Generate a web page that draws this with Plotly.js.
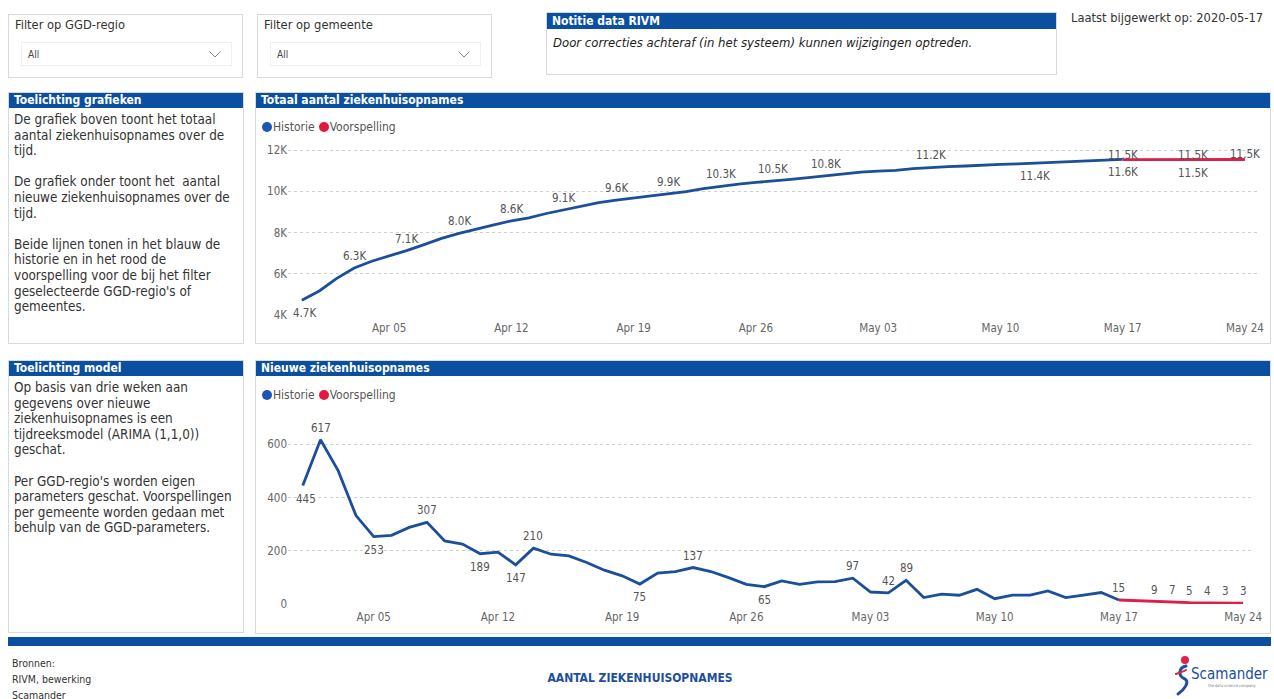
<!DOCTYPE html>
<html><head><meta charset="utf-8">
<script src="https://cdn.plot.ly/plotly-3.0.1.min.js"></script>
<style>
body{margin:0;width:1274px;height:699px;overflow:hidden;background:#fff;font-family:"DejaVu Sans Condensed","DejaVu Sans",sans-serif;color:#333;position:relative}
.box{position:absolute;border:1px solid #d9d9d9;box-sizing:border-box;background:#fff}
.hdr{position:absolute;left:0;right:0;top:0;height:15px;background:#0a4fa0;color:#fff;font-weight:bold;font-size:12px;line-height:15px;padding-left:5px;white-space:nowrap}
.ftitle{position:absolute;left:6px;top:2px;font-size:12.8px;color:#333}
.dd{position:absolute;left:12px;top:27px;width:211px;height:24px;border:1px solid #efefef;font-size:10px;line-height:24px;padding-left:6px;box-sizing:border-box;color:#444}
.dd svg{position:absolute;right:10px;top:8px}
.txt{position:absolute;left:5px;top:19px;width:224px;font-size:13.4px;line-height:15.6px;color:#333}
.leg{position:absolute;font-size:12px;color:#555;white-space:nowrap}
.leg span.dot{display:inline-block;width:10px;height:10px;border-radius:50%;vertical-align:-1px;margin-right:1px}
.leg span.item{margin-right:4px}
.chart{position:absolute}
</style></head>
<body>
<div class="box" style="left:8px;top:14px;width:235px;height:64px">
  <div class="ftitle">Filter op GGD-regio</div>
  <div class="dd">All<svg width="12" height="7"><path d="M0.5 0.5 L6 6 L11.5 0.5" fill="none" stroke="#888" stroke-width="1"/></svg></div>
</div>
<div class="box" style="left:257px;top:14px;width:235px;height:64px">
  <div class="ftitle">Filter op gemeente</div>
  <div class="dd">All<svg width="12" height="7"><path d="M0.5 0.5 L6 6 L11.5 0.5" fill="none" stroke="#888" stroke-width="1"/></svg></div>
</div>
<div class="box" style="left:546px;top:12px;width:511px;height:63px">
  <div class="hdr" style="height:16px;line-height:16px;font-weight:bold">Notitie data RIVM</div>
  <div style="position:absolute;left:6px;top:22px;font-size:13px;font-style:italic;color:#222">Door correcties achteraf (in het systeem) kunnen wijzigingen optreden.</div>
</div>
<div style="position:absolute;left:1071px;top:10px;font-size:12.8px;color:#333">Laatst bijgewerkt op: 2020-05-17</div>

<div class="box" style="left:8px;top:92px;width:236px;height:252px">
  <div class="hdr">Toelichting grafieken</div>
  <div class="txt">De grafiek boven toont het totaal aantal ziekenhuisopnames over de tijd.<br><br>De grafiek onder toont het&nbsp; aantal nieuwe ziekenhuisopnames over de tijd.<br><br>Beide lijnen tonen in het blauw de historie en in het rood de voorspelling voor de bij het filter geselecteerde GGD-regio's of gemeentes.</div>
</div>
<div class="box" style="left:8px;top:360px;width:236px;height:273px">
  <div class="hdr">Toelichting model</div>
  <div class="txt">Op basis van drie weken aan gegevens over nieuwe ziekenhuisopnames is een tijdreeksmodel (ARIMA (1,1,0)) geschat.<br><br>Per GGD-regio's worden eigen parameters geschat. Voorspellingen per gemeente worden gedaan met behulp van de GGD-parameters.</div>
</div>

<div class="box" style="left:255px;top:92px;width:1016px;height:252px">
  <div class="hdr">Totaal aantal ziekenhuisopnames</div>
</div>
<div class="box" style="left:255px;top:360px;width:1016px;height:274px">
  <div class="hdr">Nieuwe ziekenhuisopnames</div>
</div>
<div id="c1" class="chart" style="left:256px;top:107px;width:1014px;height:236px"></div>
<div id="c2" class="chart" style="left:256px;top:376px;width:1014px;height:257px"></div>
<div id="leg1" class="leg" style="left:262px;top:120px"></div>
<div id="leg2" class="leg" style="left:262px;top:388px"></div>

<div style="position:absolute;left:8px;top:637px;width:1263px;height:9px;background:#0a4fa0"></div>
<div style="position:absolute;left:12px;top:655px;font-size:10.5px;line-height:16px;color:#333">Bronnen:<br>RIVM, bewerking<br>Scamander</div>
<div style="position:absolute;left:0;width:1280px;text-align:center;top:671px;font-size:12px;font-weight:bold;color:#1d4f9c">AANTAL ZIEKENHUISOPNAMES</div>
<svg style="position:absolute;left:1170px;top:652px" width="100" height="46">
  <circle cx="15" cy="8" r="4" fill="#e0224c"/>
  <path d="M16 14 C 8 16, 8 24, 15 27 C 20 30, 14 38, 8 42" fill="none" stroke="#1d4f9c" stroke-width="3" stroke-linecap="round"/>
  <path d="M6 22 C 10 20, 13 20, 16 18" fill="none" stroke="#e0224c" stroke-width="2" stroke-linecap="round"/>
  <text x="21" y="27" font-family="DejaVu Sans Condensed" font-size="15" fill="#1d4f9c">Scamander</text>
  <text x="38" y="35" font-family="DejaVu Sans Condensed" font-size="4" fill="#777">the data science company</text>
</svg>

<script>
// ---------- data ----------
const seriesNames = ['Historie', 'Voorspelling'];
const seriesColors = ['#1c4f99', '#dc1f4b'];
const legendColors = ['#1f55b3', '#e5173f'];

const totalHistStart = '2020-03-31';
const totalHist = [4720, 5165, 5780, 6280, 6610, 6865, 7125, 7415, 7720, 7960,
  8185, 8375, 8570, 8715, 8925, 9110, 9290, 9450, 9575, 9680,
  9755, 9870, 9990, 10130, 10255, 10355, 10430, 10495, 10585, 10665,
  10755, 10840, 10935, 10980, 11020, 11105, 11160, 11195, 11230, 11285,
  11305, 11335, 11370, 11415, 11440, 11475, 11520, 11555];
const totalFcStart = '2020-05-17';
const totalFc = [11540, 11540, 11541, 11542, 11543, 11544, 11545, 11546];
const totalHistLabelDates = ['2020-03-31','2020-04-03','2020-04-06','2020-04-09','2020-04-12','2020-04-15','2020-04-18','2020-04-21','2020-04-24','2020-04-27','2020-04-30','2020-05-06','2020-05-12','2020-05-17'];
const totalHistLabelSide = ['below','above','above','above','above','above','above','above','above','above','above','above','below','below'];
const totalFcLabelDates = ['2020-05-17','2020-05-21','2020-05-24','2020-05-21'];
const totalFcLabelSide = ['near','near','near','below'];
const totalTickVals = [4000, 6000, 8000, 10000, 12000];
const totalTickText = ['4K', '6K', '8K', '10K', '12K'];

const newHistStart = '2020-04-01';
const newHist = [445, 617, 500, 332, 253, 258, 288, 307, 237, 225,
  189, 195, 147, 210, 187, 181, 156, 127, 106, 75,
  116, 122, 137, 122, 99, 74, 65, 87, 74, 83,
  84, 97, 45, 42, 89, 24, 37, 33, 55, 20,
  33, 33, 49, 24, 33, 43, 15];
const newFcStart = '2020-05-17';
const newFc = [15, 12, 9, 7, 5, 4, 3, 3];
const newHistLabelDates = ['2020-04-01','2020-04-02','2020-04-05','2020-04-08','2020-04-11','2020-04-13','2020-04-14','2020-04-20','2020-04-23','2020-04-27','2020-05-02','2020-05-04','2020-05-05','2020-05-17'];
const newHistLabelSide = ['below','above','below','above','below','below','above','below','above','below','above','above','above','above'];
const newFcLabelDates = ['2020-05-19','2020-05-20','2020-05-21','2020-05-22','2020-05-23','2020-05-24'];
const newFcLabelSide = ['above','above','above','above','above','above'];
const newTickVals = [0, 200, 400, 600];

const weekTicks = ['2020-04-05','2020-04-12','2020-04-19','2020-04-26','2020-05-03','2020-05-10','2020-05-17','2020-05-24'];

// ---------- helpers ----------
function days(start, n) {
  const t0 = Date.parse(start + 'T00:00:00Z'), out = [];
  for (let i = 0; i < n; i++) out.push(new Date(t0 + i * 864e5).toISOString().slice(0, 10));
  return out;
}
const fmtK = v => (v / 1000).toFixed(1) + 'K';
const fmtN = v => String(v);
const sideShift = {above: 12, below: -13, near: 5};
const labelFont = {family: 'DejaVu Sans Condensed, DejaVu Sans, sans-serif', size: 11.5, color: '#555'};
function dataLabels(dates, vals, labelDates, sides, fmt) {
  return labelDates.map((d, j) => {
    const i = dates.indexOf(d);
    return {x: d, y: vals[i], xref: 'x', yref: 'y', text: fmt(vals[i]), showarrow: false,
      yshift: sideShift[sides[j]], xshift: (i === 0 ? 3 : 0), font: labelFont};
  });
}

function legendHtml(id) {
  document.getElementById(id).innerHTML = seriesNames.map((n, i) =>
    '<span class="item"><span class="dot" style="background:' + legendColors[i] + '"></span>' + n + '</span>').join('');
}
legendHtml('leg1'); legendHtml('leg2');

function baseLayout(xr, yr, tv, tt, margin, annotations) {
  return {
    width: 1014, height: margin.h, margin: {l: margin.l, r: margin.r, t: margin.t, b: margin.b},
    paper_bgcolor: 'rgba(0,0,0,0)', plot_bgcolor: 'rgba(0,0,0,0)',
    showlegend: false, annotations: annotations,
    font: {family: 'DejaVu Sans Condensed, DejaVu Sans, sans-serif', size: 11, color: '#666'},
    xaxis: {type: 'date', range: xr, tickvals: weekTicks, tickformat: '%b %d', showgrid: false,
      zeroline: false, showline: false, ticks: '', ticklabelstandoff: 4, tickfont: {size: 11.5, color: '#666'}},
    yaxis: {range: yr, tickvals: tv, ticktext: tt, showgrid: true, gridcolor: '#cfcfcf', griddash: 'dot',
      gridwidth: 1, zeroline: false, showline: false, ticks: '', tickfont: {size: 11.5, color: '#666'}}
  };
}

// ---------- chart 1 ----------
const tHd = days(totalHistStart, totalHist.length);
const tFd = days(totalFcStart, totalFc.length);
const traces1 = [
  {x: tHd, y: totalHist, name: seriesNames[0], mode: 'lines', line: {color: seriesColors[0], width: 2.8}, hoverinfo: 'skip'},
  {x: tFd, y: totalFc, name: seriesNames[1], mode: 'lines', line: {color: seriesColors[1], width: 2.8}, hoverinfo: 'skip'}
];
const ann1 = dataLabels(tHd, totalHist, totalHistLabelDates, totalHistLabelSide, fmtK)
  .concat(dataLabels(tFd, totalFc, totalFcLabelDates, totalFcLabelSide, fmtK).map(a => Object.assign(a, {xshift: 0})));
Plotly.newPlot('c1', traces1,
  baseLayout(['2020-03-30 05:00', '2020-05-24 18:00'], [4000, 12200], totalTickVals, totalTickText,
    {h: 236, l: 32, r: 12, t: 39, b: 28}, ann1),
  {staticPlot: true, displayModeBar: false});

// ---------- chart 2 ----------
const nHd = days(newHistStart, newHist.length);
const nFd = days(newFcStart, newFc.length);
const traces2 = [
  {x: nHd, y: newHist, name: seriesNames[0], mode: 'lines', line: {color: seriesColors[0], width: 2.8}, hoverinfo: 'skip'},
  {x: nFd, y: newFc, name: seriesNames[1], mode: 'lines', line: {color: seriesColors[1], width: 2.8}, hoverinfo: 'skip'}
];
const ann2 = dataLabels(nHd, newHist, newHistLabelDates, newHistLabelSide, fmtN)
  .concat(dataLabels(nFd, newFc, newFcLabelDates, newFcLabelSide, fmtN).map(a => Object.assign(a, {xshift: 0})));
Plotly.newPlot('c2', traces2,
  baseLayout(['2020-03-31 04:00', '2020-05-24 12:00'], [0, 650], newTickVals, newTickVals.map(String),
    {h: 257, l: 32, r: 18, t: 55, b: 29}, ann2),
  {staticPlot: true, displayModeBar: false});
</script>
</body></html>
